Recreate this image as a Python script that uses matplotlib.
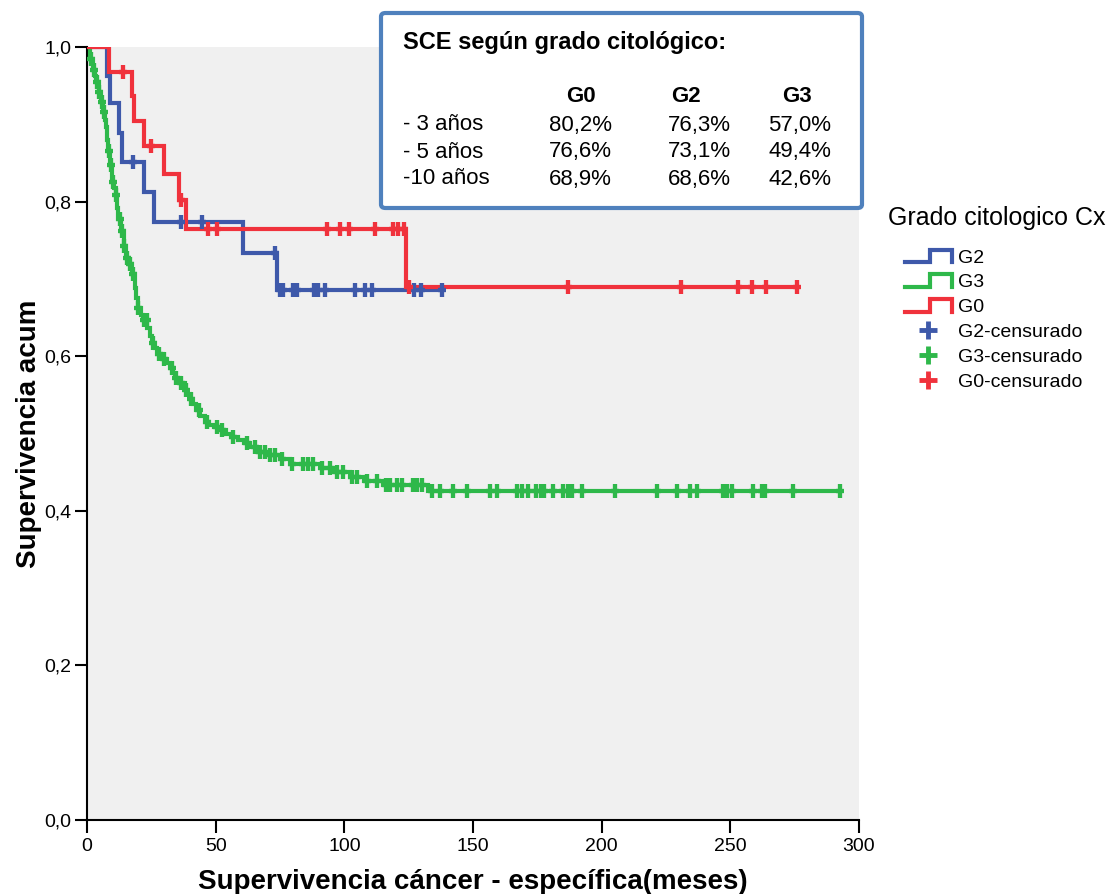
import numpy as np
import matplotlib
matplotlib.use("Agg")
import matplotlib.pyplot as plt
from matplotlib.lines import Line2D
from matplotlib.path import Path
from matplotlib.patches import FancyBboxPatch
from matplotlib.legend_handler import HandlerBase
from matplotlib.ticker import FuncFormatter

plt.rcParams['font.family'] = ['Liberation Sans', 'DejaVu Sans']

# ---- Kaplan-Meier data (months, cumulative survival) ----
g2_step_t = [7.9, 8.9, 12.4, 13.5, 22.2, 26.0, 60.8, 73.7]
g2_step_s = [0.963, 0.927, 0.889, 0.851, 0.813, 0.774, 0.734, 0.686]
g2_cens_t = [18.0, 36.4, 44.8, 73.1, 75.0, 76.2, 80.2, 81.6, 88.3, 89.6, 92.5,
             104.1, 108.0, 110.6, 126.9, 129.8, 137.9]

g3_step_t = [1.2, 2.3, 3.0, 3.6, 4.5, 5.4, 6.4, 7.0, 7.4, 7.8, 8.2, 9.1, 9.9,
             10.5, 11.1, 11.7, 12.2, 13.2, 14.2, 15.2, 16.3, 17.5, 18.5, 19.2,
             19.8, 21.0, 21.8, 23.3, 24.3, 25.3, 26.3, 27.2, 29.5, 31.0, 32.3,
             33.3, 34.2, 36.1, 38.1, 39.0, 40.0, 41.2, 42.4, 44.0, 45.9, 47.5,
             49.4, 51.7, 54.0, 56.0, 58.5, 61.0, 63.5, 66.1, 70.4, 75.0, 78.9,
             90.6, 96.0, 102.2, 107.7, 115.0, 132.5]
g3_step_s = [0.985, 0.970, 0.962, 0.955, 0.942, 0.929, 0.916, 0.905, 0.897,
             0.880, 0.866, 0.847, 0.825, 0.818, 0.808, 0.792, 0.778, 0.762,
             0.742, 0.727, 0.719, 0.706, 0.688, 0.675, 0.662, 0.653, 0.647,
             0.636, 0.626, 0.617, 0.610, 0.603, 0.597, 0.591, 0.585, 0.578,
             0.572, 0.565, 0.556, 0.551, 0.545, 0.538, 0.530, 0.523, 0.515,
             0.511, 0.508, 0.504, 0.499, 0.495, 0.492, 0.488, 0.482, 0.476,
             0.472, 0.467, 0.461, 0.455, 0.450, 0.444, 0.438, 0.433, 0.426]
g3_cens_t = [1.7, 2.7, 4.0, 4.7, 5.7, 6.6, 8.6, 9.5, 10.2, 11.4, 12.7, 13.5,
             14.5, 15.5, 16.8, 17.8, 19.9, 22.1, 23.2, 25.7, 28.0, 29.9, 33.2,
             34.5, 36.4, 38.4, 40.3, 43.5, 46.5, 50.4, 52.3, 56.8, 62.1, 65.3,
             67.2, 69.2, 71.1, 73.1, 75.7, 79.5, 84.1, 86.0, 87.9, 91.2, 94.4,
             97.0, 99.6, 103.0, 104.8, 108.7, 112.6, 116.0, 117.8, 120.4, 122.3,
             126.7, 128.1, 130.1, 134.0, 137.2, 142.4, 147.6, 156.6, 159.2,
             167.0, 169.0, 171.2, 174.5, 176.5, 177.4, 181.2, 185.1, 187.1,
             188.4, 192.3, 205.2, 221.4, 229.2, 234.3, 237.0, 247.3, 248.6,
             250.6, 259.0, 262.2, 263.5, 274.5, 292.7]

g0_step_t = [8.55, 17.4, 18.3, 22.2, 29.9, 35.8, 38.3, 124.0]
g0_step_s = [0.968, 0.936, 0.904, 0.872, 0.836, 0.802, 0.765, 0.689]
g0_cens_t = [14.0, 24.7, 36.7, 47.2, 50.4, 93.1, 98.3, 102.0, 112.0, 119.0,
             121.0, 123.0, 125.0, 186.9, 230.8, 253.0, 258.4, 263.9, 275.9]

groups = ["G2", "G3", "G0"]
colors = {"G2": "#3E59AA", "G3": "#2EB84A", "G0": "#F0323C"}

# summary table
table_cols = ["G0", "G2", "G3"]
table_rows = ["- 3 años", "- 5 años", "-10 años"]
table_vals = [["80,2%", "76,3%", "57,0%"],
              ["76,6%", "73,1%", "49,4%"],
              ["68,9%", "68,6%", "42,6%"]]

data = {
    "G2": (g2_step_t, g2_step_s, g2_cens_t),
    "G3": (g3_step_t, g3_step_s, g3_cens_t),
    "G0": (g0_step_t, g0_step_s, g0_cens_t),
}

W, H = 1118, 894
fig = plt.figure(figsize=(W / 100, H / 100), dpi=100)
ax = fig.add_axes([87 / W, 1 - 820 / H, (859 - 87) / W, (820 - 47) / H])
ax.set_facecolor("#F0F0F0")

# censoring marker: plus with a shorter horizontal arm
cens_marker = Path([(-0.6, 0), (0.6, 0), (0, -1), (0, 1)],
                   [Path.MOVETO, Path.LINETO, Path.MOVETO, Path.LINETO])

LW = 3.0
for g in groups:
    st, ss, ct = data[g]
    end_t = max(max(st), max(ct))
    t = np.concatenate([[0.0], st, [end_t]])
    s = np.concatenate([[1.0], ss, [ss[-1]]])
    ax.step(t, s, where="post", color=colors[g], lw=LW, solid_joinstyle="miter",
            zorder=3)
for g in groups:
    st, ss, ct = data[g]
    t = np.concatenate([[0.0], st])
    s = np.concatenate([[1.0], ss])
    idx = np.searchsorted(t, ct, side="right") - 1
    ax.plot(ct, s[idx], linestyle="none", marker=cens_marker, markersize=10.5,
            markeredgewidth=3.1, color=colors[g], zorder=4)

ax.set_xlim(0, 300)
ax.set_ylim(0, 1.0)
ax.set_xticks(np.arange(0, 301, 50))
ax.set_yticks(np.arange(0, 1.01, 0.2))
ax.yaxis.set_major_formatter(FuncFormatter(lambda v, p: f"{v:.1f}".replace(".", ",")))
for sp in ["top", "right"]:
    ax.spines[sp].set_visible(False)
for sp in ["left", "bottom"]:
    ax.spines[sp].set_linewidth(1.5)
    ax.spines[sp].set_color("black")
ax.tick_params(axis="both", direction="out", length=9, width=1.5,
               labelsize=14, colors="black")
ax.tick_params(axis="y", pad=2)
ax.tick_params(axis="x", pad=4)
ax.set_xlabel("Supervivencia cáncer - específica(meses)", fontsize=20,
              fontweight="bold", labelpad=10)
ax.set_ylabel("Supervivencia acum", fontsize=20, fontweight="bold", labelpad=2)


# legend with step-shaped line handles
class StepHandler(HandlerBase):
    def create_artists(self, legend, orig_handle, xdescent, ydescent, width,
                       height, fontsize, trans):
        x0, y0 = -xdescent, -ydescent
        lo = y0 + 0.05 * height
        hi = y0 + 0.95 * height
        xm = x0 + 0.53 * width
        xs = [x0, xm, xm, x0 + width, x0 + width]
        ys = [lo, lo, hi, hi, lo]
        ln = Line2D(xs, ys, color=orig_handle.get_color(), lw=orig_handle.get_linewidth(),
                    solid_joinstyle="miter")
        ln.set_transform(trans)
        return [ln]


line_handles = [Line2D([], [], color=colors[g], lw=LW) for g in groups]
cens_handles = [Line2D([], [], color=colors[g], linestyle="none", marker="+",
                       markersize=13, markeredgewidth=3.5) for g in groups]
handles = line_handles + cens_handles
labels = groups + [f"{g}-censurado" for g in groups]
handler_map = {h: StepHandler() for h in line_handles}
fig.legend(handles, labels, loc="upper left",
           bbox_to_anchor=(905 / W, 1 - 249 / H), frameon=False, fontsize=14,
           handlelength=2.4, handleheight=0.7, handletextpad=0.35,
           labelspacing=0.37, borderpad=0, borderaxespad=0,
           handler_map=handler_map)
fig.text(888 / W, 1 - 218 / H, "Grado citologico Cx", fontsize=18,
         va="center", ha="left")

# summary box
box = FancyBboxPatch((381 / W, 1 - 208 / H), (862 - 381) / W, (208 - 13) / H,
                     boxstyle="round,pad=0,rounding_size=0.004",
                     transform=fig.transFigure, facecolor="white",
                     edgecolor="#4F81BD", linewidth=3, zorder=5)
fig.patches.append(box)
fig.text(403 / W, 1 - 42 / H, "SCE según grado citológico:", fontsize=17,
         fontweight="bold", va="center", ha="left", zorder=6)
col_x = [581, 686, 797]
val_x = [580, 699, 800]
for cx, name in zip(col_x, table_cols):
    fig.text(cx / W, 1 - 97 / H, name, fontsize=16, fontweight="bold",
             va="center", ha="center", zorder=6)
row_y = [125, 152, 179]
for ry, rname, vals in zip(row_y, table_rows, table_vals):
    fig.text(403 / W, 1 - ry / H, rname, fontsize=16, va="center", ha="left",
             zorder=6)
    for vx, v in zip(val_x, vals):
        fig.text(vx / W, 1 - ry / H, v, fontsize=16, va="center", ha="center",
                 zorder=6)

fig.savefig("out.png", dpi=100, facecolor="white")
